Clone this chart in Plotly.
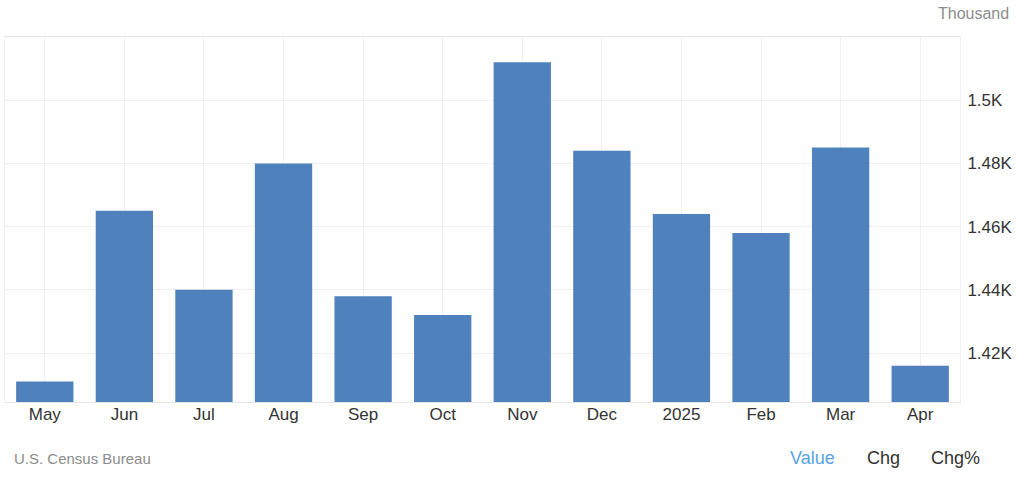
import plotly.graph_objects as go

categories = ["May", "Jun", "Jul", "Aug", "Sep", "Oct", "Nov", "Dec", "2025", "Feb", "Mar", "Apr"]
values = [1.411, 1.465, 1.440, 1.480, 1.438, 1.432, 1.512, 1.484, 1.464, 1.458, 1.485, 1.416]
tick_vals = [1.42, 1.44, 1.46, 1.48, 1.50]
tick_text = ["1.42K", "1.44K", "1.46K", "1.48K", "1.5K"]

grid = "#f0f0f0"
fig = go.Figure(go.Bar(x=categories, y=values, marker=dict(color="#4f81bd", line=dict(width=0)),
                       hoverinfo="skip"))

L, R, T, B = 5, 64, 37, 80
fig.update_layout(
    width=1024, height=482,
    margin=dict(l=L, r=R, t=T, b=B, autoexpand=False),
    paper_bgcolor="white", plot_bgcolor="white",
    bargap=0.28,
    showlegend=False,
    font=dict(family="Liberation Sans, Arial, sans-serif", color="#333333"),
    xaxis=dict(type="category", showgrid=True, gridcolor=grid, showline=True, linecolor="#e6e6e6",
               mirror=True, ticks="", ticklabelstandoff=-3, tickfont=dict(size=17, color="#333333"), fixedrange=True),
    yaxis=dict(side="right", range=[1.4045, 1.52], tickvals=tick_vals, ticktext=tick_text,
               showgrid=True, gridcolor=grid, showline=True, linecolor="#f0f0f0", mirror=True,
               zeroline=False, ticks="", ticklabelstandoff=3, tickfont=dict(size=17, color="#333333"),
               fixedrange=True),
)

pw = 1024 - L - R
ph = 482 - T - B
def px(x):
    return (x - L) / pw
def py(y):
    return (482 - B - y) / ph

fig.layout.annotations = [
    dict(text="Thousand", x=px(1011), y=py(13), xref="paper", yref="paper", xanchor="right", yanchor="middle",
         showarrow=False, font=dict(size=16, color="#8c8c8c")),
    dict(text="U.S. Census Bureau", x=px(12), y=py(459), xref="paper", yref="paper", xanchor="left", yanchor="middle",
         showarrow=False, font=dict(size=15, color="#8c8c8c")),
    dict(text="Value", x=px(812), y=py(458), xref="paper", yref="paper", xanchor="center", yanchor="middle",
         showarrow=False, font=dict(size=18, color="#5aa3e8")),
    dict(text="Chg", x=px(883), y=py(458), xref="paper", yref="paper", xanchor="center", yanchor="middle",
         showarrow=False, font=dict(size=18, color="#333333")),
    dict(text="Chg%", x=px(955), y=py(458), xref="paper", yref="paper", xanchor="center", yanchor="middle",
         showarrow=False, font=dict(size=18, color="#333333")),
]

fig.write_html("out.html", config={"displayModeBar": False},
               post_script="document.body.style.margin='0';document.body.style.padding='0';")
